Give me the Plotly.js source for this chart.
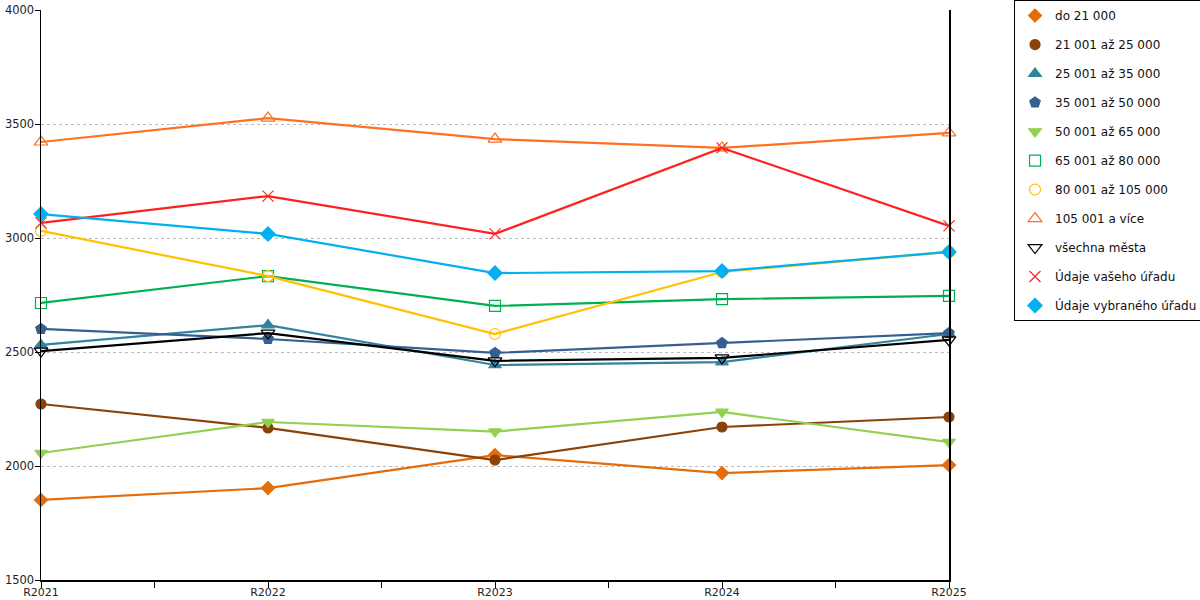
<!DOCTYPE html>
<html>
<head>
<meta charset="utf-8">
<script src="https://cdn.plot.ly/plotly-3.0.1.min.js"></script>
<style>
  html, body { margin: 0; padding: 0; background: #fff; }
  #chart { width: 1200px; height: 600px; }
</style>
</head>
<body>
<div id="chart"></div>
<script>
// data
const categories = ["R2021", "R2022", "R2023", "R2024", "R2025"];

const seriesNames = [
  "do 21 000",
  "21 001 až 25 000",
  "25 001 až 35 000",
  "35 001 až 50 000",
  "50 001 až 65 000",
  "65 001 až 80 000",
  "80 001 až 105 000",
  "105 001 a více",
  "všechna města",
  "Údaje vašeho úřadu",
  "Údaje vybraného úřadu"
];

const do21 = [1851, 1903, 2048, 1969, 2004];
const s21to25 = [2272, 2167, 2026, 2171, 2215];
const s25to35 = [2531, 2618, 2443, 2456, 2579];
const s35to50 = [2601, 2557, 2496, 2539, 2583];
const s50to65 = [2057, 2193, 2151, 2237, 2105];
const s65to80 = [2715, 2833, 2702, 2732, 2746];
const s80to105 = [3031, 2833, 2579, 2851, 2939];
const s105plus = [3421, 3526, 3434, 3395, 3461];
const allCities = [2504, 2583, 2461, 2474, 2553];
const yourOffice = [3066, 3184, 3018, 3395, 3053];
const selectedOffice = [3105, 3018, 2846, 2855, 2939];

const yTicks = [1500, 2000, 2500, 3000, 3500, 4000];

/* =========================
   STYLES
========================= */
const styles = [
  { color: "#E46C0A", symbol: "diamond", size: 10 },
  { color: "#8B4208", symbol: "circle", size: 10 },
  { color: "#31849B", symbol: "triangle-up", size: 11 },
  { color: "#365F91", symbol: "pentagon", size: 11 },
  { color: "#92D050", symbol: "triangle-down", size: 11 },
  { color: "#00B050", symbol: "square-open", size: 11 },
  { color: "#FFC000", symbol: "circle-open", size: 11 },
  { color: "#FF7020", symbol: "triangle-up-open", size: 12 },
  { color: "#000000", symbol: "triangle-down-open", size: 12 },
  { color: "#FF2020", symbol: "x-thin-open", size: 11 },
  { color: "#00B0F0", symbol: "diamond", size: 11 }
];

const allSeries = [do21, s21to25, s25to35, s35to50, s50to65, s65to80,
  s80to105, s105plus, allCities, yourOffice, selectedOffice];

const xIdx = categories.map((_, i) => i);

function markerOf(i) {
  return {
    color: styles[i].color,
    symbol: styles[i].symbol,
    size: styles[i].size,
    line: { color: styles[i].color, width: 1.2 }
  };
}

// the lines themselves, kept out of the legend
const traces = allSeries.map((vals, i) => ({
  x: xIdx,
  y: vals,
  name: seriesNames[i],
  legendgroup: "g" + i,
  showlegend: false,
  type: "scatter",
  mode: "lines+markers",
  cliponaxis: false,
  line: { color: styles[i].color, width: 2.2 },
  marker: markerOf(i)
}));

// legend entries: marker only, like the reference
allSeries.forEach((vals, i) => {
  traces.push({
    x: [null],
    y: [null],
    name: seriesNames[i],
    legendgroup: "g" + i,
    type: "scatter",
    mode: "markers",
    marker: markerOf(i)
  });
});

// ticks on categories and half-way between
const tickvals = [], ticktext = [];
categories.forEach((c, i) => {
  tickvals.push(i);
  ticktext.push(c);
  if (i < categories.length - 1) {
    tickvals.push(i + 0.5);
    ticktext.push("");
  }
});

Plotly.newPlot("chart", traces, {
  width: 1200,
  height: 600,
  margin: { l: 41, r: 251, t: 10, b: 20, autoexpand: false },
  paper_bgcolor: "#fff",
  plot_bgcolor: "#fff",
  font: { family: "DejaVu Sans, Verdana, sans-serif", size: 11.5, color: "#222" },
  showlegend: true,
  xaxis: {
    range: [0, categories.length - 1],
    tickmode: "array",
    tickvals: tickvals,
    ticktext: ticktext,
    ticks: "outside",
    ticklen: 6,
    tickcolor: "#000",
    ticklabelstandoff: -5,
    tickfont: { size: 11 },
    showline: true,
    linecolor: "#000",
    linewidth: 1.5,
    showgrid: false,
    zeroline: false,
    automargin: false,
    fixedrange: true
  },
  yaxis: {
    range: [1500, 4000],
    tickmode: "array",
    tickvals: yTicks,
    ticks: "outside",
    ticklen: 5,
    tickcolor: "#000",
    ticklabelstandoff: -2,
    showline: true,
    mirror: true,
    linecolor: "#000",
    linewidth: 1.5,
    showgrid: true,
    gridcolor: "#bbbbbb",
    griddash: "dot",
    gridwidth: 1,
    zeroline: false,
    automargin: false,
    fixedrange: true
  },
  legend: {
    x: 1.0716,
    xanchor: "left",
    y: 1.0175,
    yanchor: "top",
    maxheight: 600,
    bordercolor: "#000",
    borderwidth: 1,
    bgcolor: "#fff",
    font: { family: "DejaVu Sans, Verdana, sans-serif", size: 12, color: "#111" },
    tracegroupgap: 10,
    itemwidth: 30
  }
}, { displayModeBar: false, staticPlot: true });
</script>
</body>
</html>
